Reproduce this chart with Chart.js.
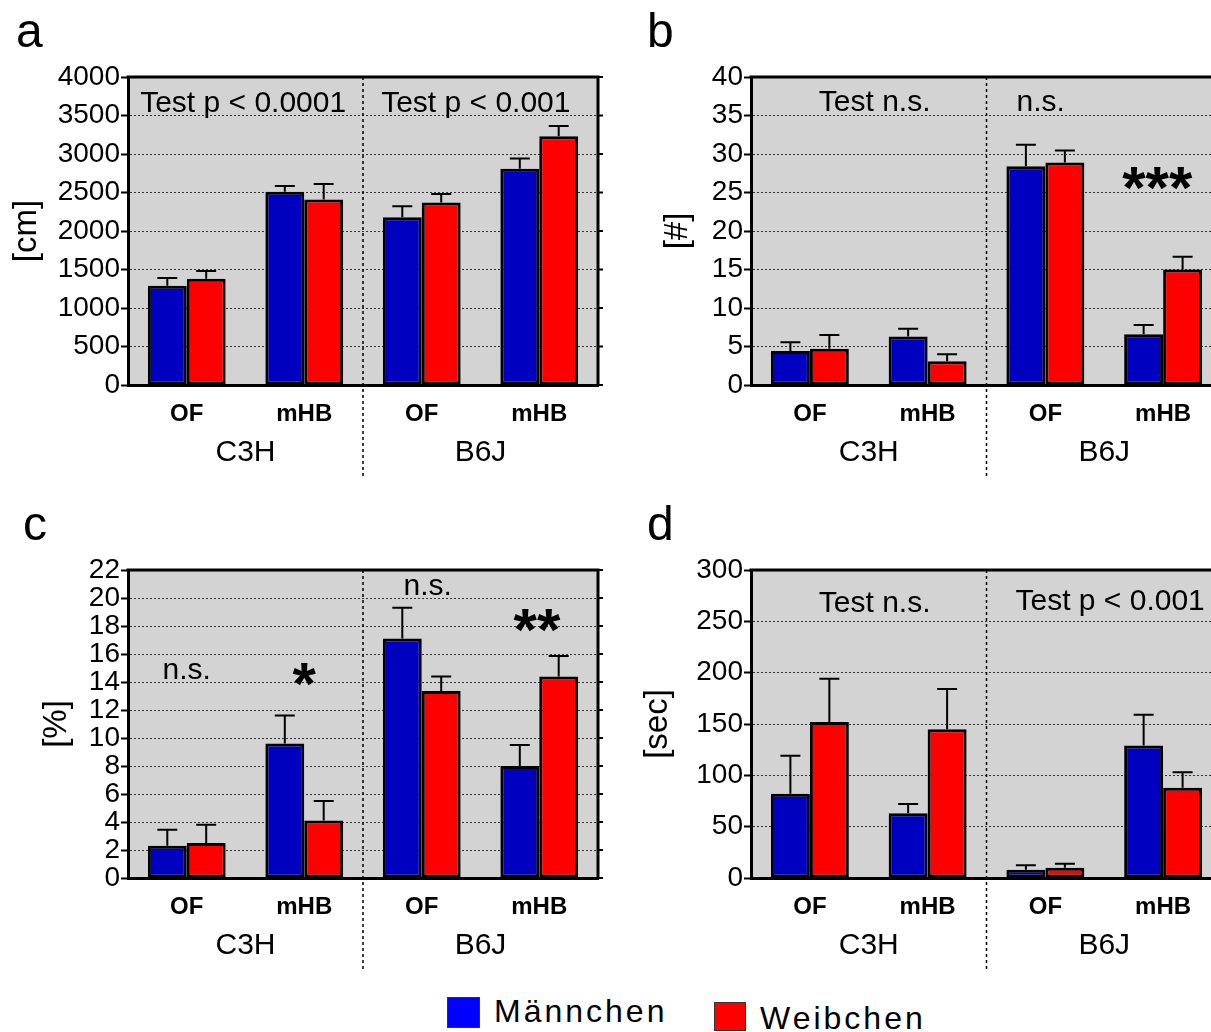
<!DOCTYPE html>
<html>
<head>
<meta charset="utf-8">
<script src="https://cdn.jsdelivr.net/npm/chart.js@4.4.1/dist/chart.umd.min.js"></script>
<style>
  html, body { margin: 0; padding: 0; background: #fff; overflow: hidden; }
  body { width: 1211px; height: 1032px; position: relative; font-family: 'Liberation Sans', Arial, sans-serif; }
  canvas { position: absolute; }
  .sw { position: absolute; border: 1px solid #333; box-sizing: border-box; }
  .lg { position: absolute; font-size: 32px; line-height: 32px; letter-spacing: 3px; color: #000; white-space: nowrap; }
</style>
</head>
<body>
<canvas id="panelA" width="605" height="490" style="left:0;top:0"></canvas>
<canvas id="panelB" width="628" height="490" style="left:623px;top:0"></canvas>
<canvas id="panelC" width="605" height="490" style="left:0;top:493px"></canvas>
<canvas id="panelD" width="628" height="490" style="left:623px;top:493px"></canvas>

<span class="sw" style="left:447px;top:997px;width:33px;height:31px;background:#0000ff"></span>
<span class="lg" style="left:494px;top:995px">Männchen</span>
<span class="sw" style="left:714px;top:1002px;width:32px;height:29px;background:#ff0000"></span>
<span class="lg" style="left:760px;top:1002px">Weibchen</span>

<script>
const categories = ['OF', 'mHB', 'OF', 'mHB'];
const strains = ['C3H', 'B6J'];
const seriesNames = ['Männchen', 'Weibchen'];

// a: distance
const distMale = [1290, 2510, 2180, 2810];
const distMaleSem = [100, 75, 140, 130];
const distFemale = [1380, 2410, 2370, 3230];
const distFemaleSem = [100, 200, 110, 135];

// b: count
const countMale = [4.4, 6.3, 28.4, 6.6];
const countMaleSem = [1.15, 1.0, 2.8, 1.2];
const countFemale = [4.7, 3.1, 28.9, 15.0];
const countFemaleSem = [1.8, 0.9, 1.55, 1.65];

// c: percent
const pctMale = [2.3, 9.6, 17.1, 8.0];
const pctMaleSem = [1.15, 2.0, 2.2, 1.5];
const pctFemale = [2.5, 4.1, 13.35, 14.4];
const pctFemaleSem = [1.3, 1.4, 1.05, 1.45];

// d: time
const timeMale = [82, 63, 8, 129];
const timeMaleSem = [37, 9, 4.5, 30];
const timeFemale = [152, 145, 10, 88];
const timeFemaleSem = [42, 39, 4, 15];

const FONT = "'Liberation Sans', Arial, sans-serif";
Chart.defaults.font.family = FONT;
Chart.defaults.color = '#000';

const textFont = '30px ' + FONT;
const starFont = 'bold 60px ' + FONT;

// gray plot area, error bars, frame, strain labels and notes
const panelDeco = {
  id: 'panelDeco',
  beforeDraw(chart) {
    const { ctx, chartArea: a } = chart;
    ctx.save();
    ctx.fillStyle = '#d3d3d3';
    ctx.fillRect(a.left, a.top, a.right - a.left, a.bottom - a.top);
    ctx.restore();
  },
  afterDatasetsDraw(chart, args, opts) {
    const { ctx } = chart;
    const y = chart.scales.y;
    ctx.save();
    ctx.strokeStyle = '#000';
    ctx.lineWidth = 2;
    chart.data.datasets.forEach((ds, i) => {
      const meta = chart.getDatasetMeta(i);
      meta.data.forEach((bar, j) => {
        const top = y.getPixelForValue(ds.data[j] + opts.sem[i][j]);
        ctx.beginPath();
        ctx.moveTo(bar.x, bar.y);
        ctx.lineTo(bar.x, top);
        ctx.moveTo(bar.x - 10, top);
        ctx.lineTo(bar.x + 10, top);
        ctx.stroke();
      });
    });
    ctx.restore();
  },
  afterDraw(chart, args, opts) {
    const { ctx, chartArea: a } = chart;
    const x = chart.scales.x, y = chart.scales.y;
    ctx.save();

    // top and right frame
    ctx.strokeStyle = '#000';
    ctx.lineWidth = 3;
    ctx.beginPath();
    ctx.moveTo(a.left - 1.5, a.top);
    ctx.lineTo(a.right, a.top);
    ctx.lineTo(a.right, a.bottom);
    ctx.stroke();
    ctx.lineWidth = 2;
    y.ticks.forEach(t => {
      const py = y.getPixelForValue(t.value);
      ctx.beginPath();
      ctx.moveTo(a.right, py);
      ctx.lineTo(a.right + 5, py);
      ctx.stroke();
    });

    // dotted divider between strains
    const mid = (x.getPixelForValue(1) + x.getPixelForValue(2)) / 2;
    ctx.setLineDash([3, 3]);
    ctx.lineWidth = 1.5;
    ctx.beginPath();
    ctx.moveTo(mid, a.top);
    ctx.lineTo(mid, a.bottom + 92);
    ctx.stroke();
    ctx.setLineDash([]);

    // strain names under each pair of categories
    ctx.fillStyle = '#000';
    ctx.textAlign = 'center';
    ctx.textBaseline = 'middle';
    ctx.font = textFont;
    strains.forEach((s, g) => {
      const cx = (x.getPixelForValue(2 * g) + x.getPixelForValue(2 * g + 1)) / 2;
      ctx.fillText(s, cx, a.bottom + 68);
    });

    // test results and significance stars
    const step = x.getPixelForValue(1) - x.getPixelForValue(0);
    ctx.textBaseline = 'alphabetic';
    opts.notes.forEach(n => {
      ctx.font = n.star ? starFont : textFont;
      ctx.fillText(n.text, x.getPixelForValue(0) + n.at * step, y.getPixelForValue(n.y));
    });

    // panel letter
    ctx.textAlign = 'left';
    ctx.font = '48px ' + FONT;
    ctx.fillText(opts.letter, opts.letterX, 47);
    ctx.restore();
  }
};

function makePanel(id, p) {
  return new Chart(document.getElementById(id), {
    type: 'bar',
    data: {
      labels: categories,
      datasets: [
        { label: seriesNames[0], data: p.male, backgroundColor: '#0000c0' },
        { label: seriesNames[1], data: p.female, backgroundColor: '#ff0000' }
      ]
    },
    options: {
      responsive: false,
      animation: false,
      layout: { padding: { top: 77, right: p.padRight, bottom: 0, left: 0 } },
      datasets: {
        bar: {
          borderColor: '#000',
          borderWidth: 3,
          borderSkipped: false,
          categoryPercentage: 0.662,
          barPercentage: 1
        }
      },
      scales: {
        x: {
          afterFit: s => { s.height = 105; },
          grid: { display: false },
          border: { display: true, color: '#000', width: 3 },
          ticks: { font: { size: 24, weight: 'bold' }, padding: 7, color: '#000' }
        },
        y: {
          min: 0,
          max: p.max,
          afterFit: s => { s.width = 128; },
          grid: {
            color: '#333',
            lineWidth: 1,
            tickLength: 7,
            tickColor: '#000',
            tickWidth: 2,
            tickBorderDash: []
          },
          border: { display: true, color: '#000', width: 3, dash: [2, 2] },
          ticks: {
            stepSize: p.step,
            autoSkip: false,
            font: { size: 28 },
            padding: 1,
            color: '#000',
            callback: v => String(v)
          },
          title: { display: true, text: p.title, font: { size: 33 }, padding: { top: p.titlePad }, color: '#000' }
        }
      },
      plugins: {
        legend: { display: false },
        tooltip: { enabled: false },
        panelDeco: { sem: p.sem, notes: p.notes, letter: p.letter, letterX: p.letterX }
      }
    },
    plugins: [panelDeco]
  });
}

makePanel('panelA', {
  male: distMale, female: distFemale, sem: [distMaleSem, distFemaleSem],
  max: 4000, step: 500, title: '[cm]', titlePad: 7, padRight: 7,
  letter: 'a', letterX: 16,
  notes: [
    { text: 'Test p < 0.0001', at: 0.48, y: 3545 },
    { text: 'Test p < 0.001', at: 2.46, y: 3545 }
  ]
});

makePanel('panelB', {
  male: countMale, female: countFemale, sem: [countMaleSem, countFemaleSem],
  max: 40, step: 5, title: '[#]', titlePad: 35, padRight: 29,
  letter: 'b', letterX: 24,
  notes: [
    { text: 'Test n.s.', at: 0.55, y: 35.6 },
    { text: 'n.s.', at: 1.96, y: 35.6 },
    { text: '***', at: 2.95, y: 23.0, star: true }
  ]
});

makePanel('panelC', {
  male: pctMale, female: pctFemale, sem: [pctMaleSem, pctFemaleSem],
  max: 22, step: 2, title: '[%]', titlePad: 37, padRight: 7,
  letter: 'c', letterX: 23,
  notes: [
    { text: 'n.s.', at: 0, y: 14.2 },
    { text: '*', at: 1, y: 12.4, star: true },
    { text: 'n.s.', at: 2.05, y: 20.2 },
    { text: '**', at: 2.98, y: 16.3, star: true }
  ]
});

makePanel('panelD', {
  male: timeMale, female: timeFemale, sem: [timeMaleSem, timeFemaleSem],
  max: 300, step: 50, title: '[sec]', titlePad: 15, padRight: 29,
  letter: 'd', letterX: 24,
  notes: [
    { text: 'Test n.s.', at: 0.55, y: 259 },
    { text: 'Test p < 0.001', at: 2.55, y: 261 }
  ]
});
</script>
</body>
</html>
